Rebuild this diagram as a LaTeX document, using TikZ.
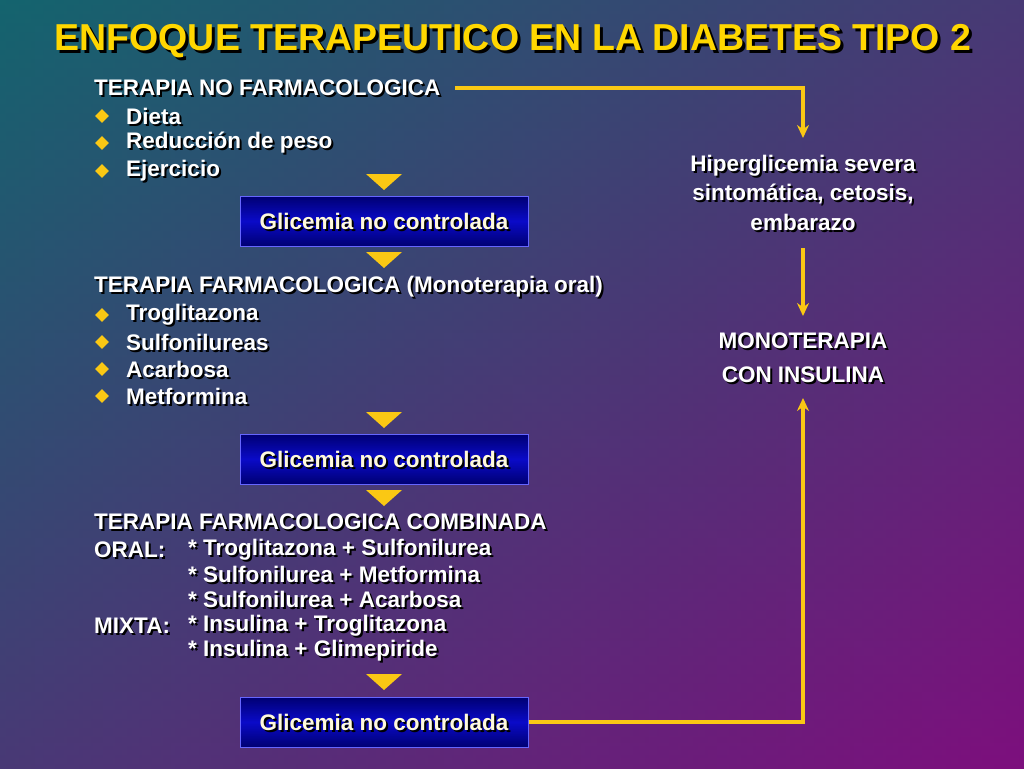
\documentclass[tikz,border=0pt]{standalone}
\usepackage{fontspec}
\setmainfont{Liberation Sans}
\usetikzlibrary{shapes.geometric,arrows.meta}
\definecolor{bgA}{RGB}{20,100,110}
\definecolor{bgB}{RGB}{125,15,125}
\definecolor{ttl}{RGB}{255,215,0}
\definecolor{gold}{RGB}{250,200,20}
\definecolor{boxb}{RGB}{10,10,200}
\definecolor{cream}{RGB}{255,250,220}
\newcommand\stx[5]{% name, x, y, anchor, text
  \node[txt,text=black,anchor=#4] (#1s) at (#2+2,#3+2) {#5};
  \node[txt,anchor=#4] (#1) at (#2,#3) {#5};}
\newcommand\gtx[3]{% name, x, y
  \node[txt,text=black] (#1s) at (#2+2,#3+2) {Glicemia no controlada};
  \node[txt,text=cream] (#1) at (#2,#3) {Glicemia no controlada};}
\newcommand\bul[2]{\node[bul] (#1) at (102,#2) {};}
\begin{document}
\begin{tikzpicture}[x=1pt,y=-1pt,
  txt/.style={text=white,font=\fontsize{22.5}{25}\bfseries\selectfont,inner sep=0pt},
  bul/.style={diamond,fill=gold,minimum size=14pt,inner sep=0pt},
  tri/.style={fill=gold,draw=none},
  gbox/.style={draw=blue!60!white,line width=1pt,minimum width=288pt,minimum height=50pt,inner sep=0pt,
     top color=blue!45!black,bottom color=blue!45!black,middle color=boxb},
  con/.style={draw=gold,line width=3.5pt},
  arr/.style={con,-{Stealth[length=13pt,width=12pt]}}]
\shade[left color=bgA,right color=bgB] (0,0) rectangle (1024,768);
\shade[top color=bgA,bottom color=bgB,opacity=0.5] (0,0) rectangle (1024,768);
\useasboundingbox (0,0) rectangle (1024,768);
% title
\node[font=\fontsize{37.5}{40}\bfseries\selectfont,text=black,inner sep=0pt] (ts) at (516,44) {ENFOQUE TERAPEUTICO EN LA DIABETES TIPO 2};
\node[font=\fontsize{37.5}{40}\bfseries\selectfont,text=ttl,inner sep=0pt] (t) at (513,41) {ENFOQUE TERAPEUTICO EN LA DIABETES TIPO 2};
% block 1
\stx{a1}{94}{88}{west}{TERAPIA NO FARMACOLOGICA}
\bul{b1}{116}\stx{a2}{126}{116}{west}{Dieta}
\bul{b2}{143}\stx{a3}{126}{143}{west}{Reducción de peso}
\bul{b3}{171}\stx{a4}{126}{171}{west}{Ejercicio}
\fill[tri] (366,174) -- (402,174) -- (384,190) -- cycle;
\node[gbox] (g1) at (384,221) {};
\gtx{g1t}{384}{221}
\fill[tri] (366,252) -- (402,252) -- (384,268) -- cycle;
% block 2
\stx{c1}{94}{287}{west}{TERAPIA FARMACOLOGICA (Monoterapia oral)}
\bul{d1}{315}\stx{c2}{126}{315}{west}{Troglitazona}
\bul{d2}{342}\stx{c3}{126}{342}{west}{Sulfonilureas}
\bul{d3}{369}\stx{c4}{126}{369}{west}{Acarbosa}
\bul{d4}{396}\stx{c5}{126}{396}{west}{Metformina}
\fill[tri] (366,412) -- (402,412) -- (384,428) -- cycle;
\node[gbox] (g2) at (384,459) {};
\gtx{g2t}{384}{459}
\fill[tri] (366,490) -- (402,490) -- (384,506) -- cycle;
% block 3
\stx{e1}{94}{522}{west}{TERAPIA FARMACOLOGICA COMBINADA}
\stx{e2}{94}{550}{west}{ORAL:}
\stx{e3}{188}{550}{west}{* Troglitazona + Sulfonilurea}
\stx{e4}{188}{574}{west}{* Sulfonilurea + Metformina}
\stx{e5}{188}{599}{west}{* Sulfonilurea + Acarbosa}
\stx{e6}{94}{626}{west}{MIXTA:}
\stx{e7}{188}{626}{west}{* Insulina + Troglitazona}
\stx{e8}{188}{651}{west}{* Insulina + Glimepiride}
\fill[tri] (366,674) -- (402,674) -- (384,690) -- cycle;
\node[gbox] (g3) at (384,722) {};
\gtx{g3t}{384}{722}
% right column
\stx{h1}{803}{166}{center}{Hiperglicemia severa}
\stx{h2}{803}{194}{center}{sintomática, cetosis,}
\stx{h3}{803}{222}{center}{embarazo}
\stx{m1}{803}{341}{center}{MONOTERAPIA}
\stx{m2}{803}{375}{center}{CON INSULINA}
\coordinate (k0) at (455,88);
\coordinate (k1) at (803,88);
\coordinate (k2) at (803,722);
\draw[arr] (k0) -- (k1) -- (803,138);
\draw[arr] (803,248) -- (803,316);
\draw[arr] (g3.east) -- (k2) -- (803,398);
\end{tikzpicture}
\end{document}
